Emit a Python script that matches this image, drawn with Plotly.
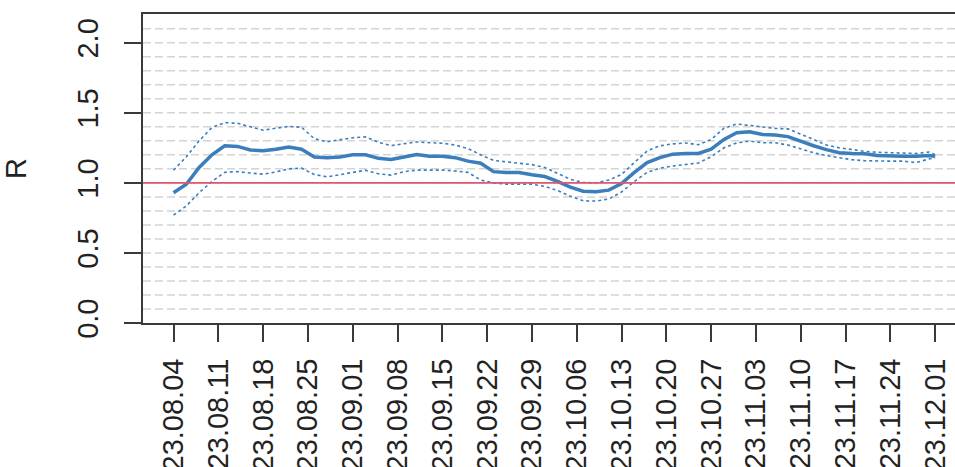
import pandas as pd
import plotly.graph_objects as go

# ---- data ----
start_date = "2023-08-04"
day_offsets = [0, 2, 4, 6, 8, 10, 12, 14, 16, 18, 20, 22, 24, 26, 28, 30, 32, 34, 36, 38,
               40, 42, 44, 46, 48, 50, 52, 54, 56, 58, 60, 62, 64, 66, 68, 70, 72, 74, 76, 78,
               80, 82, 84, 86, 88, 90, 92, 94, 96, 98, 100, 102, 104, 106, 108, 110, 112, 114,
               116, 118, 119]

r_mean = [0.93, 0.99, 1.11, 1.20, 1.265, 1.26, 1.235, 1.229, 1.24, 1.255,
          1.24, 1.185, 1.18, 1.185, 1.20, 1.20, 1.175, 1.167, 1.185, 1.203,
          1.19, 1.19, 1.18, 1.155, 1.14, 1.08, 1.074, 1.074, 1.058, 1.045,
          1.01, 0.97, 0.94, 0.937, 0.948, 0.995, 1.075, 1.145, 1.18, 1.205,
          1.21, 1.21, 1.24, 1.31, 1.358, 1.364, 1.345, 1.342, 1.33, 1.295,
          1.265, 1.237, 1.215, 1.21, 1.207, 1.195, 1.19, 1.19, 1.19, 1.195, 1.19]

r_upper = [1.09, 1.186, 1.30, 1.395, 1.43, 1.425, 1.40, 1.376, 1.39, 1.403,
           1.397, 1.315, 1.293, 1.305, 1.322, 1.328, 1.29, 1.266, 1.28, 1.292,
           1.287, 1.283, 1.27, 1.245, 1.20, 1.16, 1.15, 1.14, 1.13, 1.11,
           1.065, 1.025, 1.003, 1.0, 1.02, 1.06, 1.145, 1.228, 1.265, 1.278,
           1.285, 1.272, 1.31, 1.39, 1.42, 1.41, 1.395, 1.389, 1.385, 1.35,
           1.31, 1.27, 1.25, 1.238, 1.225, 1.218, 1.214, 1.21, 1.21, 1.22, 1.20]

r_lower = [0.77, 0.835, 0.93, 1.01, 1.075, 1.08, 1.07, 1.062, 1.078, 1.10,
           1.105, 1.06, 1.043, 1.058, 1.075, 1.09, 1.065, 1.055, 1.08, 1.091,
           1.091, 1.091, 1.085, 1.075, 1.02, 1.0, 0.991, 0.991, 0.991, 0.975,
           0.945, 0.905, 0.872, 0.87, 0.885, 0.935, 1.01, 1.075, 1.105, 1.12,
           1.13, 1.142, 1.186, 1.25, 1.285, 1.298, 1.287, 1.286, 1.27, 1.24,
           1.215, 1.195, 1.18, 1.165, 1.158, 1.155, 1.155, 1.155, 1.145, 1.17, 1.18]

tick_labels = ["23.08.04", "23.08.11", "23.08.18", "23.08.25", "23.09.01", "23.09.08",
               "23.09.15", "23.09.22", "23.09.29", "23.10.06", "23.10.13", "23.10.20",
               "23.10.27", "23.11.03", "23.11.10", "23.11.17", "23.11.24", "23.12.01"]
y_ticks = [0.0, 0.5, 1.0, 1.5, 2.0]
y_tick_labels = ["0.0", "0.5", "1.0", "1.5", "2.0"]
grid_levels = [round(0.1 * i, 1) for i in range(1, 22)]
threshold = 1.0

# ---- build ----
t0 = pd.Timestamp(start_date)
dates = [t0 + pd.Timedelta(days=d) for d in day_offsets]
tick_vals = [pd.Timestamp("20" + s.replace(".", "-")) for s in tick_labels]

BLUE = "#3A7EBB"
RED = "#E0566E"
GRID = "#D4D4D4"
AX = "#3a3a3a"
FONT = "Liberation Sans, Arial, sans-serif"

fig = go.Figure()

# dashed horizontal grid lines
for g in grid_levels:
    fig.add_shape(type="line", xref="paper", x0=0, x1=1, yref="y", y0=g, y1=g,
                  line=dict(color=GRID, width=1.5, dash="8px,4px"), layer="below")

# reference line at R = 1
fig.add_shape(type="line", xref="paper", x0=0, x1=1, yref="y", y0=threshold, y1=threshold,
              line=dict(color=RED, width=1.6))

fig.add_trace(go.Scatter(x=dates, y=r_upper, mode="lines",
                         line=dict(color=BLUE, width=1.6, dash="3px,3px"), showlegend=False))
fig.add_trace(go.Scatter(x=dates, y=r_lower, mode="lines",
                         line=dict(color=BLUE, width=1.6, dash="3px,3px"), showlegend=False))
fig.add_trace(go.Scatter(x=dates, y=r_mean, mode="lines",
                         line=dict(color=BLUE, width=3.5), showlegend=False))

x_left = t0 - pd.Timedelta(days=4.77)
x_right = t0 + pd.Timedelta(days=122.1)

fig.update_layout(
    width=955, height=467,
    margin=dict(l=143, r=0, t=14, b=144),
    plot_bgcolor="white", paper_bgcolor="white",
    font=dict(family=FONT, size=29, color="#222222"),
    xaxis=dict(
        range=[x_left, x_right], showgrid=False, zeroline=False, automargin=False,
        showline=True, linecolor=AX, linewidth=2, mirror=True,
        tickmode="array", tickvals=tick_vals, ticktext=tick_labels,
        ticks="outside", ticklen=17, tickwidth=2, tickcolor=AX,
        tickangle=-90, ticklabelstandoff=5,
    ),
    yaxis=dict(
        range=[0, 2.205], showgrid=False, zeroline=False, automargin=False,
        showline=True, linecolor=AX, linewidth=2, mirror=False,
        tickmode="array", tickvals=y_ticks, ticktext=y_tick_labels,
        ticks="outside", ticklen=17, tickwidth=2, tickcolor=AX,
        tickangle=-90, ticklabelstandoff=14,
        title=dict(text="R", standoff=40, font=dict(size=29)),
    ),
)

fig.write_html("out.html", config={"displayModeBar": False},
               post_script="document.body.style.margin='0';document.body.style.overflow='hidden';")
